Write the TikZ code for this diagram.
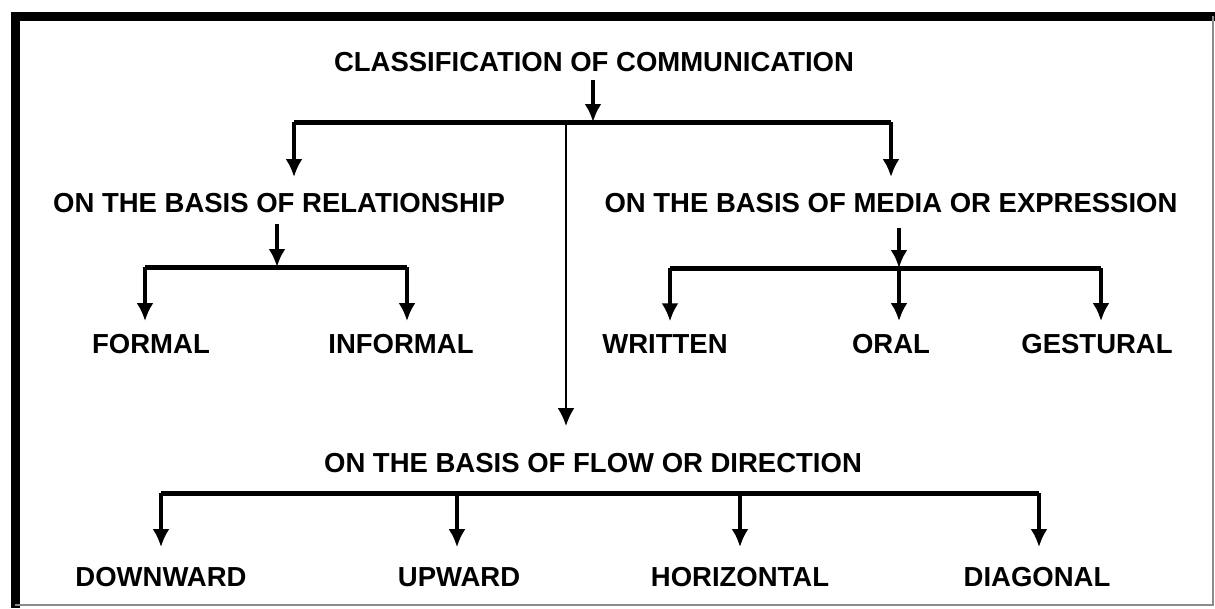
\documentclass[tikz,border=0pt]{standalone}
\usepackage{fontspec}
\setmainfont{Liberation Sans}
\usetikzlibrary{positioning,calc,arrows.meta}
\tikzset{lbl/.style={font=\bfseries\fontsize{27.5}{30}\selectfont,inner sep=0pt},
	arr/.style={-{Latex[length=18pt,width=17pt]},line width=3.5pt},
	bar/.style={line width=5pt}}

\begin{document}
\begin{tikzpicture}[x=1pt,y=-1pt]
	\useasboundingbox (0,0) rectangle (1215,608);
	% frame
	\draw[line width=9pt] (15,608) -- (15,16) -- (1215,16);
	\draw[line width=1.5pt,black!45] (15,605) -- (1213,605) -- (1213,16);
	% headings
	\node[lbl] (cls) at (594,62) {CLASSIFICATION OF COMMUNICATION};
	\node[lbl] (rel) at (279,203) {ON THE BASIS OF RELATIONSHIP};
	\node[lbl] (med) at (891,203) {ON THE BASIS OF MEDIA OR EXPRESSION};
	\node[lbl] (flw) at (593,463) {ON THE BASIS OF FLOW OR DIRECTION};
	% leaves
	\foreach \nm/\x/\t in {formal/151/FORMAL,informal/401/INFORMAL,written/665/WRITTEN,oral/891/ORAL,gestural/1097/GESTURAL}
		\node[lbl] (\nm) at (\x,344) {\t};
	\foreach \nm/\x/\t in {down/161/DOWNWARD,up/459/UPWARD,horiz/740/HORIZONTAL,diag/1037/DIAGONAL}
		\node[lbl] (\nm) at (\x,577) {\t};
	% top level
	\coordinate (t0) at (593,122);
	\coordinate (tL) at (294,122);
	\coordinate (tR) at (891,122);
	\coordinate (tM) at (566,122);
	\draw[bar] (tL) -- (tR);
	\draw[arr,shorten <=8pt] (cls.south -| t0) -- (t0);
	\draw[arr,shorten >=16pt] (tL) -- (tL |- rel.north);
	\draw[arr,shorten >=16pt] (tR) -- (tR |- med.north);
	\draw[arr,line width=2.5pt,shorten >=27pt] (tM) -- (tM |- flw.north);
	% relationship
	\coordinate (r0) at (277,267);
	\coordinate (rL) at (145,267);
	\coordinate (rR) at (407,267);
	\draw[bar] (rL) -- (rR);
	\draw[arr,shorten <=11pt] (rel.south -| r0) -- (r0);
	\foreach \c/\n in {rL/formal,rR/informal}
		\draw[arr,shorten >=13pt] (\c) -- (\c |- \n.north);
	% media
	\coordinate (m0) at (899,268);
	\coordinate (mL) at (670,268);
	\coordinate (mR) at (1101,268);
	\draw[bar] (mL) -- (mR);
	\draw[arr,shorten <=15pt] (med.south -| m0) -- (m0);
	\foreach \c/\n in {mL/written,m0/oral,mR/gestural}
		\draw[arr,shorten >=13pt] (\c) -- (\c |- \n.north);
	% flow
	\coordinate (fA) at (161,493);
	\coordinate (fB) at (457,493);
	\coordinate (fC) at (740,493);
	\coordinate (fD) at (1039,493);
	\draw[bar] (fA) -- (fD);
	\foreach \c/\n in {fA/down,fB/up,fC/horiz,fD/diag}
		\draw[arr,shorten >=20pt] (\c) -- (\c |- \n.north);
\end{tikzpicture}
\end{document}
